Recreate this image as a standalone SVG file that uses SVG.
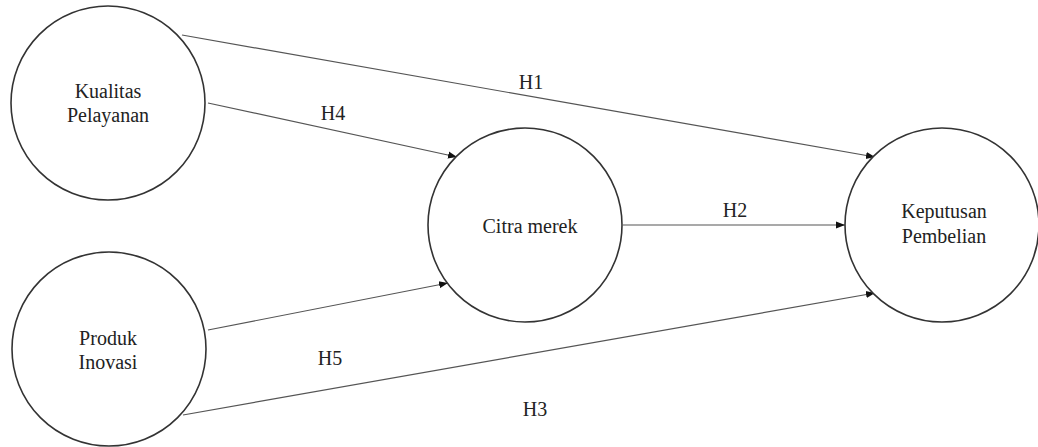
<svg xmlns="http://www.w3.org/2000/svg" width="1038" height="447" viewBox="0 0 1038 447">
<style>
.node{fill:#fff;stroke:#333;stroke-width:1.6}
.lbl{font-family:"Liberation Serif","Times New Roman",serif;font-size:20px;fill:#222;text-anchor:middle}
.edge{stroke:#555;stroke-width:1.2;fill:none;marker-end:url(#arr)}
</style>
<defs>
<marker id="arr" viewBox="0 0 10 10" refX="10" refY="5" markerWidth="9" markerHeight="9" markerUnits="userSpaceOnUse" orient="auto">
<path d="M0,1 L10,5 L0,9 z" fill="#111"/>
</marker>
</defs>
<rect width="1038" height="447" fill="#fff"/>
<g id="connectors">
<line class="edge" x1="182" y1="35" x2="875" y2="157"/>
<line class="edge" x1="208" y1="103" x2="457" y2="157"/>
<line class="edge" x1="623" y1="225" x2="845" y2="225"/>
<line class="edge" x1="208" y1="330" x2="448" y2="283"/>
<line class="edge" x1="183" y1="415" x2="875" y2="293"/>
<text class="lbl" x="531" y="89">H1</text>
<text class="lbl" x="333" y="120">H4</text>
<text class="lbl" x="735" y="217">H2</text>
<text class="lbl" x="330" y="365">H5</text>
<text class="lbl" x="535" y="416">H3</text>
</g>
<g id="kualitas">
<circle class="node" cx="108" cy="103" r="97"/>
<text class="lbl" x="108" y="98">Kualitas</text>
<text class="lbl" x="108" y="122">Pelayanan</text>
</g>
<g id="produk">
<circle class="node" cx="109" cy="349" r="97"/>
<text class="lbl" x="108" y="345">Produk</text>
<text class="lbl" x="108" y="369">Inovasi</text>
</g>
<g id="citra">
<circle class="node" cx="525" cy="225" r="97"/>
<text class="lbl" x="530" y="233">Citra merek</text>
</g>
<g id="keputusan">
<circle class="node" cx="942" cy="225" r="97"/>
<text class="lbl" x="944" y="218">Keputusan</text>
<text class="lbl" x="944" y="243">Pembelian</text>
</g>
</svg>
